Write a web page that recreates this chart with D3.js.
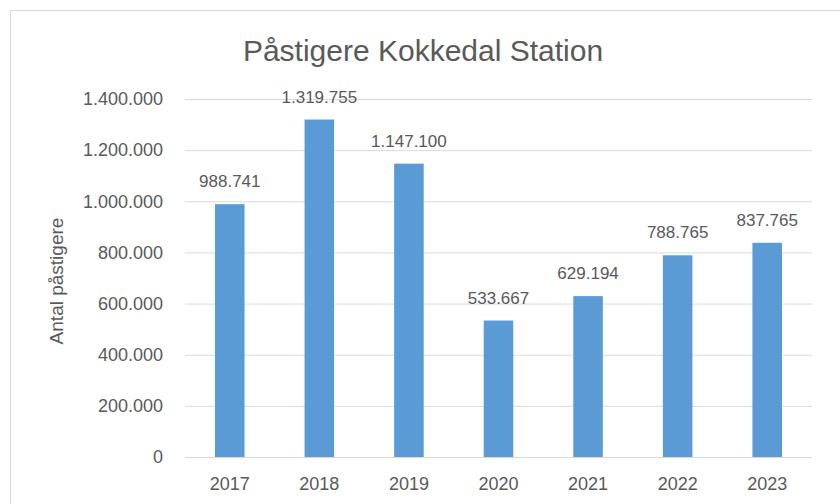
<!DOCTYPE html>
<html>
<head>
<meta charset="utf-8">
<script src="https://cdn.jsdelivr.net/npm/d3@7"></script>
<style>
  body { margin: 0; background: #fff; }
  text { font-family: "Liberation Sans", Arial, sans-serif; fill: #595959; }
</style>
</head>
<body>
<div id="chart"></div>
<script>
// data
const years = ["2017", "2018", "2019", "2020", "2021", "2022", "2023"];
const passengers = [988741, 1319755, 1147100, 533667, 629194, 788765, 837765];
const yTicks = [0, 200000, 400000, 600000, 800000, 1000000, 1200000, 1400000];

const W = 840, H = 504;
const margin = { top: 99, right: 28, bottom: 47, left: 185 };
const width = W - margin.left - margin.right;
const height = H - margin.top - margin.bottom;

const fmt = d3.formatLocale({ decimal: ",", thousands: ".", grouping: [3], currency: ["", " kr."] }).format(",d");

const svg = d3.select("#chart")
  .append("svg")
  .attr("width", W)
  .attr("height", H);

// chart border (runs off the right/bottom edge in the reference)
svg.append("rect")
  .attr("x", 10.5).attr("y", 10.5)
  .attr("width", W + 10).attr("height", H + 10)
  .attr("fill", "none")
  .attr("stroke", "#d9d9d9");

svg.append("text")
  .attr("x", 423).attr("y", 61)
  .attr("text-anchor", "middle")
  .style("font-size", "30px")
  .text("Påstigere Kokkedal Station");

const g = svg.append("g")
  .attr("transform", `translate(${margin.left},${margin.top})`);

const x = d3.scaleBand().domain(years).range([0, width]).paddingInner(0.67).paddingOuter(0.335);
const y = d3.scaleLinear().domain([0, 1400000]).range([height, 0]);

// gridlines + y labels
const yAxis = g.append("g")
  .call(d3.axisLeft(y).tickValues(yTicks).tickSize(-width).tickPadding(22).tickFormat(fmt));
yAxis.select(".domain").remove();
yAxis.selectAll(".tick line").attr("stroke", "#d9d9d9");
yAxis.selectAll(".tick text")
  .style("font-size", "18px")
  .attr("fill", "#595959")
  .style("font-family", "Liberation Sans, Arial, sans-serif");

// bars
g.selectAll(".bar")
  .data(years)
  .enter().append("rect")
  .attr("class", "bar")
  .attr("x", d => x(d))
  .attr("y", (d, i) => y(passengers[i]))
  .attr("width", x.bandwidth())
  .attr("height", (d, i) => height - y(passengers[i]))
  .attr("fill", "#5b9bd5");

// value labels
g.selectAll(".label")
  .data(years)
  .enter().append("text")
  .attr("class", "label")
  .attr("x", d => x(d) + x.bandwidth() / 2)
  .attr("y", (d, i) => y(passengers[i]) - 17)
  .attr("text-anchor", "middle")
  .style("font-size", "17px")
  .text((d, i) => fmt(passengers[i]));

// x axis
const xAxis = g.append("g")
  .attr("transform", `translate(0,${height})`)
  .call(d3.axisBottom(x).tickSize(0).tickPadding(20));
xAxis.select(".domain").attr("stroke", "#d9d9d9");
xAxis.selectAll(".tick text")
  .style("font-size", "18px")
  .attr("fill", "#595959")
  .style("font-family", "Liberation Sans, Arial, sans-serif");

// y title
svg.append("text")
  .attr("transform", "translate(63,281) rotate(-90)")
  .attr("text-anchor", "middle")
  .style("font-size", "19px")
  .text("Antal påstigere");
</script>
</body>
</html>
